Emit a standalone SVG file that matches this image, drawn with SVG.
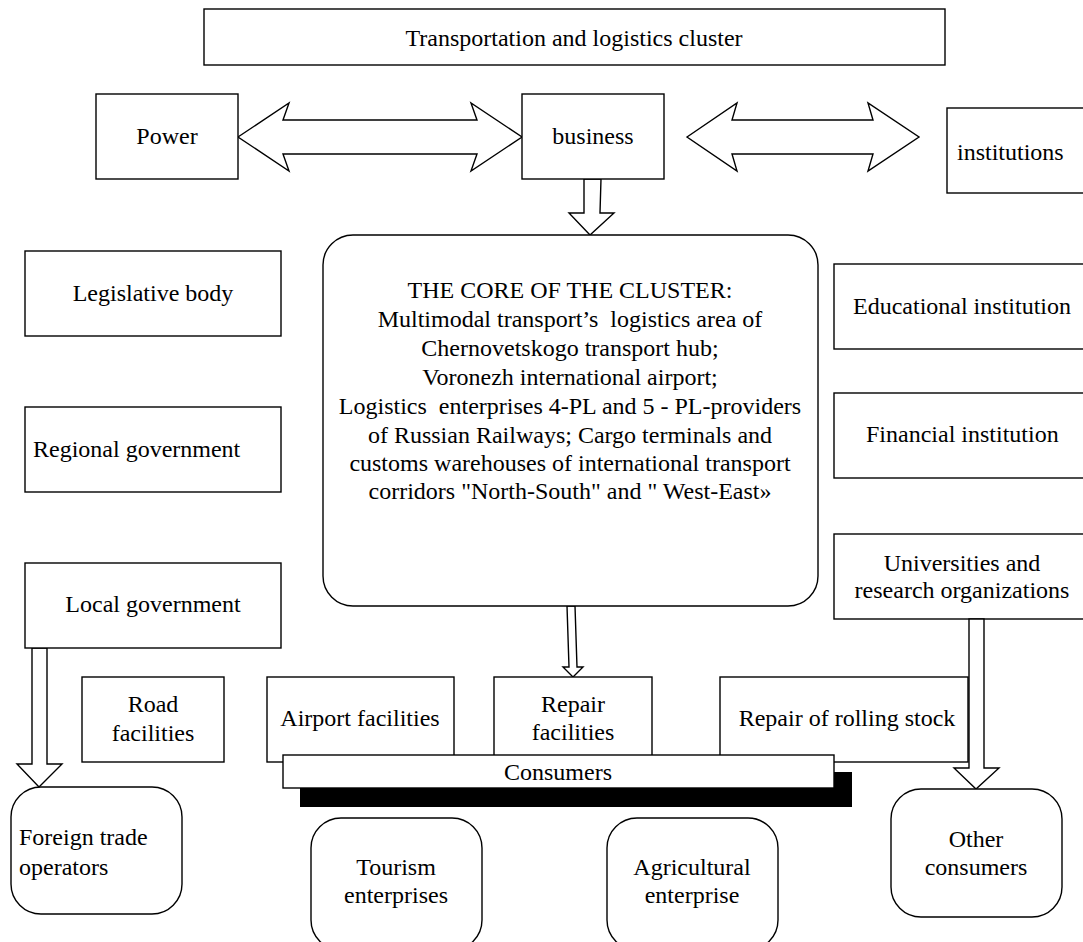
<svg xmlns="http://www.w3.org/2000/svg" width="1083" height="942" viewBox="0 0 1083 942">
  <style>
    .box { fill: #fff; stroke: #000; stroke-width: 1.4; }
    .arrow { fill: #fff; stroke: #000; stroke-width: 1.4; stroke-linejoin: miter; }
    text { font-family: 'Liberation Serif', 'Times New Roman', Times, 'DejaVu Serif', serif; font-size: 24px; fill: #000; white-space: pre; }
    .c { text-anchor: middle; }
  </style>
  <rect width="1083" height="942" fill="#fff"/>

  <g font-family="Liberation Serif, Times New Roman, serif" font-size="24">

  <!-- block connectors -->
  <g id="connectors">
    <polygon class="arrow" points="238,137 289,103 283,120 477,120 471,103 522,137 471,171 477,154 283,154 289,171"/>
    <polygon class="arrow" points="687,137 737,103 732,120 873,120 868,103 919,137 868,171 873,154 732,154 737,171"/>
    <polygon class="arrow" points="584,179 601,179 600,213 614,213 590,235 569,213 584,213"/>
    <polygon class="arrow" points="567,606 575,606 577,667 583,667 573,677 563,667 569,667"/>
    <polygon class="arrow" points="32,648 47,648 47,764 62,764 39,787 17,764 32,764"/>
  </g>

  <g id="cluster">
    <rect class="box" x="204" y="9" width="741" height="56"/>
    <text class="c" x="574" y="46">Transportation and logistics cluster</text>
  </g>
  <g id="power">
    <rect class="box" x="96" y="94" width="142" height="85"/>
    <text class="c" x="167" y="144">Power</text>
  </g>
  <g id="business">
    <rect class="box" x="522" y="94" width="142" height="85"/>
    <text class="c" x="593" y="144">business</text>
  </g>
  <g id="institutions">
    <rect class="box" x="947" y="108" width="150" height="85"/>
    <text x="957" y="160">institutions</text>
  </g>

  <g id="core">
    <rect class="box" x="323" y="235" width="495" height="371" rx="30" ry="30"/>
    <text class="c" x="570" y="298">THE CORE OF THE CLUSTER:</text>
    <text class="c" x="570" y="327" xml:space="preserve">Multimodal transport’s  logistics area of</text>
    <text class="c" x="570" y="356">Chernovetskogo transport hub;</text>
    <text class="c" x="570" y="385">Voronezh international airport;</text>
    <text class="c" x="570" y="414" xml:space="preserve">Logistics  enterprises 4-PL and 5 - PL-providers</text>
    <text class="c" x="570" y="443">of Russian Railways; Cargo terminals and</text>
    <text class="c" x="570" y="471">customs warehouses of international transport</text>
    <text class="c" x="570" y="499">corridors "North-South" and " West-East»</text>
  </g>

  <g id="legislative">
    <rect class="box" x="25" y="251" width="256" height="85"/>
    <text class="c" x="153" y="301">Legislative body</text>
  </g>
  <g id="regional">
    <rect class="box" x="25" y="407" width="256" height="85"/>
    <text x="33" y="457">Regional government</text>
  </g>
  <g id="local">
    <rect class="box" x="25" y="563" width="256" height="85"/>
    <text class="c" x="153" y="612">Local government</text>
  </g>

  <g id="educational">
    <rect class="box" x="834" y="264" width="260" height="85"/>
    <text x="853" y="314">Educational institution</text>
  </g>
  <g id="financial">
    <rect class="box" x="834" y="393" width="260" height="85"/>
    <text x="866" y="442">Financial institution</text>
  </g>
  <g id="universities">
    <rect class="box" x="834" y="534" width="260" height="85"/>
    <text class="c" x="962" y="571">Universities and</text>
    <text class="c" x="962" y="598">research organizations</text>
  </g>

  <g id="road">
    <rect class="box" x="82" y="677" width="142" height="85"/>
    <text class="c" x="153" y="712">Road</text>
    <text class="c" x="153" y="741">facilities</text>
  </g>
  <g id="airport">
    <rect class="box" x="267" y="677" width="187" height="85"/>
    <text class="c" x="360" y="726">Airport facilities</text>
  </g>
  <g id="repair">
    <rect class="box" x="494" y="677" width="158" height="85"/>
    <text class="c" x="573" y="712">Repair</text>
    <text class="c" x="573" y="740">facilities</text>
  </g>
  <g id="rolling-stock">
    <rect class="box" x="720" y="677" width="248" height="85"/>
    <text class="c" x="847" y="726">Repair of rolling stock</text>
  </g>

  <!-- arrow from research organizations down to other consumers -->
  <g id="connector-universities">
    <polygon class="arrow" points="969,619 984,619 984,768 999,768 976,789 954,768 969,768"/>
  </g>

  <g id="consumers">
    <rect x="300" y="772" width="552" height="35" fill="#000"/>
    <rect class="box" x="283" y="755" width="551" height="33"/>
    <text class="c" x="558" y="780">Consumers</text>
  </g>

  <g id="foreign-trade">
    <rect class="box" x="11" y="787" width="171" height="127" rx="30" ry="30"/>
    <text x="19" y="845">Foreign trade</text>
    <text x="19" y="875">operators</text>
  </g>
  <g id="tourism">
    <rect class="box" x="311" y="818" width="171" height="132" rx="30" ry="30"/>
    <text class="c" x="396" y="875">Tourism</text>
    <text class="c" x="396" y="903">enterprises</text>
  </g>
  <g id="agricultural">
    <rect class="box" x="607" y="818" width="171" height="132" rx="30" ry="30"/>
    <text class="c" x="692" y="875">Agricultural</text>
    <text class="c" x="692" y="903">enterprise</text>
  </g>
  <g id="other-consumers">
    <rect class="box" x="891" y="789" width="171" height="128" rx="30" ry="30"/>
    <text class="c" x="976" y="847">Other</text>
    <text class="c" x="976" y="875">consumers</text>
  </g>

  </g>
</svg>
